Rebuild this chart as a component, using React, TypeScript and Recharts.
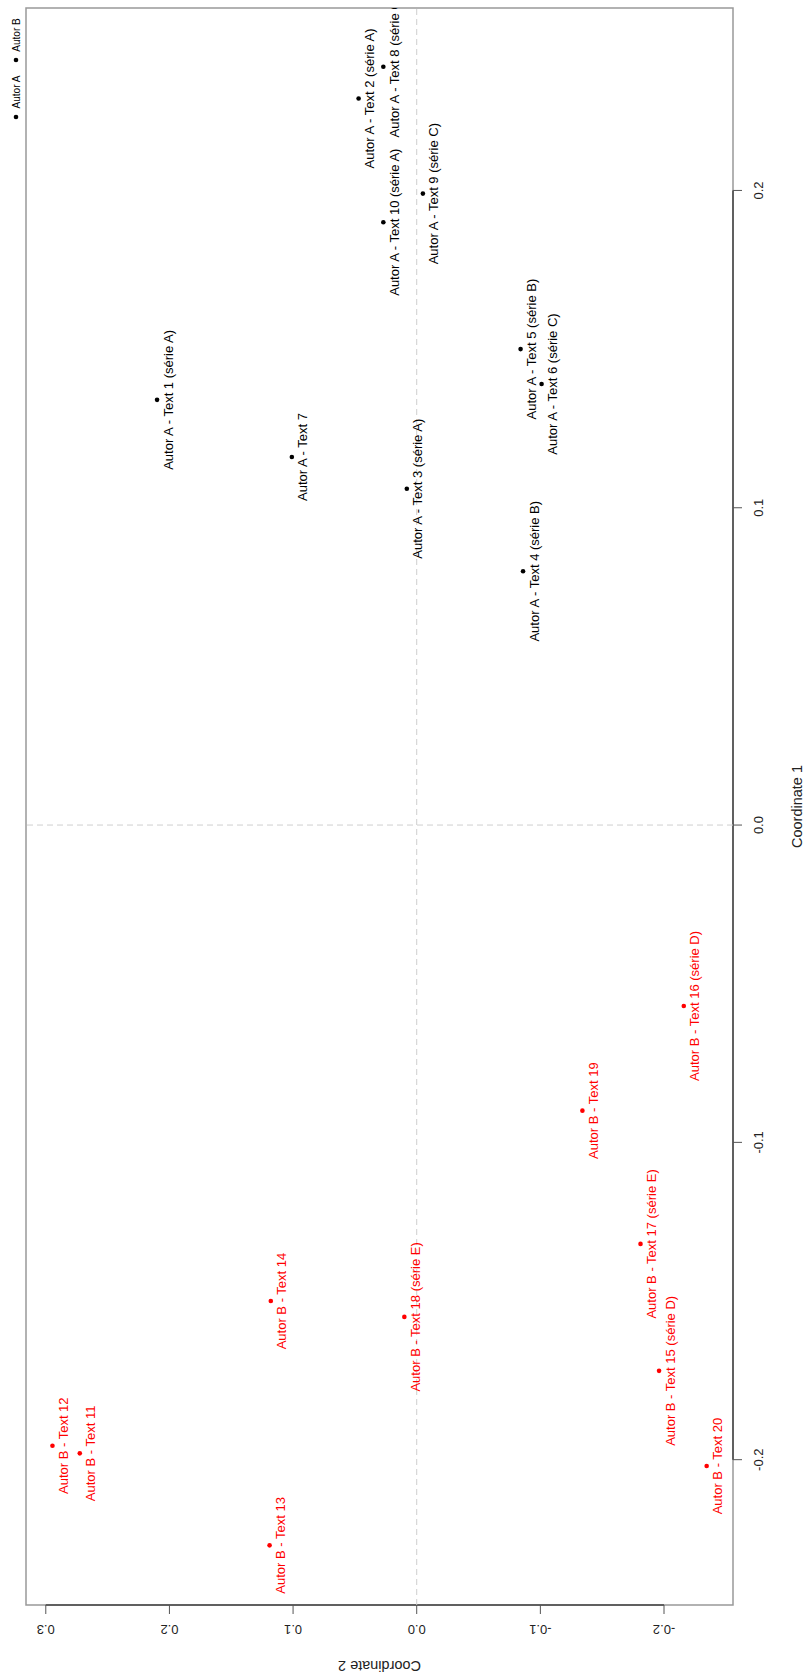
import React from "react";
import {
  ScatterChart,
  Scatter,
  XAxis,
  YAxis,
  ReferenceLine,
  ReferenceArea,
  Legend,
} from "recharts";

// Autor A
const labelsA = [
  "Autor A - Text 1 (série A)",
  "Autor A - Text 2 (série A)",
  "Autor A - Text 3 (série A)",
  "Autor A - Text 4 (série B)",
  "Autor A - Text 5 (série B)",
  "Autor A - Text 6 (série C)",
  "Autor A - Text 7",
  "Autor A - Text 8 (série C)",
  "Autor A - Text 9 (série C)",
  "Autor A - Text 10 (série A)",
];
const coord1A = [0.134, 0.229, 0.106, 0.08, 0.15, 0.139, 0.116, 0.239, 0.199, 0.19];
const coord2A = [0.21, 0.047, 0.008, -0.086, -0.084, -0.101, 0.101, 0.027, -0.005, 0.027];

// Autor B
const labelsB = [
  "Autor B - Text 11",
  "Autor B - Text 12",
  "Autor B - Text 13",
  "Autor B - Text 14",
  "Autor B - Text 15 (série D)",
  "Autor B - Text 16 (série D)",
  "Autor B - Text 17 (série E)",
  "Autor B - Text 18 (série E)",
  "Autor B - Text 19",
  "Autor B - Text 20",
];
const coord1B = [-0.198, -0.1956, -0.227, -0.15, -0.172, -0.057, -0.132, -0.155, -0.09, -0.202];
const coord2B = [0.2725, 0.2946, 0.119, 0.118, -0.196, -0.216, -0.181, 0.01, -0.134, -0.2345];

const ticks1 = [-0.2, -0.1, 0, 0.1, 0.2];
const ticks2 = [0.3, 0.2, 0.1, 0, -0.1, -0.2];

const C1_MIN = -0.2458;
const C1_MAX = 0.2575;
const C2_MIN = -0.2558;
const C2_MAX = 0.316;

const FONT = "'Liberation Sans', Arial, sans-serif";

const dataA = labelsA.map((name, i) => ({ name, c1: coord1A[i], c2: coord2A[i] }));
const dataB = labelsB.map((name, i) => ({ name, c1: coord1B[i], c2: coord2B[i] }));

// point with its label set below it (reads bottom-to-top in the turned plot)
const pointShape = (color: string) => (props: any) => {
  const { cx, cy, payload } = props;
  const tx = cx + 15.5;
  return (
    <g>
      <circle cx={cx} cy={cy} r={2.3} fill={color} />
      <text
        x={tx}
        y={cy}
        transform={`rotate(-90 ${tx} ${cy})`}
        textAnchor="middle"
        fontSize={13}
        fontFamily={FONT}
        fill={color}
      >
        {payload.name}
      </text>
    </g>
  );
};

const BottomTick = (props: any) => {
  const { x, y, payload } = props;
  const ty = y + 11;
  return (
    <text
      x={x}
      y={ty}
      transform={`rotate(180 ${x} ${ty})`}
      textAnchor="middle"
      fontSize={13}
      fontFamily={FONT}
      fill="#222"
    >
      {Number(payload.value).toFixed(1)}
    </text>
  );
};

const RightTick = (props: any) => {
  const { x, y, payload } = props;
  const tx = x + 21;
  return (
    <text
      x={tx}
      y={y}
      transform={`rotate(-90 ${tx} ${y})`}
      textAnchor="middle"
      fontSize={13}
      fontFamily={FONT}
      fill="#222"
    >
      {Number(payload.value).toFixed(1)}
    </text>
  );
};

const BottomTitle = (props: any) => {
  const vb = props.viewBox || { x: 26, y: 1605, width: 707, height: 72 };
  const cx = vb.x + vb.width / 2;
  const ty = vb.y + 56;
  return (
    <text
      x={cx}
      y={ty}
      transform={`rotate(180 ${cx} ${ty})`}
      textAnchor="middle"
      fontSize={14.5}
      fontFamily={FONT}
      fill="#222"
    >
      Coordinate 2
    </text>
  );
};

const RightTitle = (props: any) => {
  const vb = props.viewBox || { x: 733, y: 8, width: 72, height: 1597 };
  const tx = vb.x + 69;
  const cy = vb.y + vb.height / 2;
  return (
    <text
      x={tx}
      y={cy}
      transform={`rotate(-90 ${tx} ${cy})`}
      textAnchor="middle"
      fontSize={14.5}
      fontFamily={FONT}
      fill="#222"
    >
      Coordinate 1
    </text>
  );
};

const legendItems = [
  { name: "Autor A", color: "#000" },
  { name: "Autor B", color: "#000" },
];

const LegendBox = () => (
  <svg width={26} height={130}>
    {legendItems.map((item, i) => {
      const by = 117 - i * 57;
      const ty = by - 25;
      return (
        <g key={item.name}>
          <circle cx={16} cy={by} r={2.3} fill={item.color} />
          <text
            x={19.6}
            y={ty}
            transform={`rotate(-90 19.6 ${ty})`}
            textAnchor="middle"
            fontSize={10}
            fontFamily={FONT}
            fill="#000"
          >
            {item.name}
          </text>
        </g>
      );
    })}
  </svg>
);

export default function App() {
  return (
    <div style={{ position: "absolute", left: 0, top: 0, background: "#fff" }}>
      <ScatterChart
        width={805}
        height={1677}
        margin={{ top: 8, right: 0, bottom: 0, left: 26 }}
      >
        <XAxis
          type="number"
          dataKey="c2"
          domain={[C2_MIN, C2_MAX]}
          reversed
          allowDataOverflow
          ticks={ticks2}
          interval={0}
          height={72}
          axisLine={false}
          tickSize={9}
          tickMargin={0}
          tickLine={{ stroke: "#555" }}
          tick={<BottomTick />}
          label={<BottomTitle />}
        />
        <YAxis
          type="number"
          dataKey="c1"
          orientation="right"
          domain={[C1_MIN, C1_MAX]}
          allowDataOverflow
          ticks={ticks1}
          interval={0}
          width={72}
          axisLine={false}
          tickSize={9}
          tickMargin={0}
          tickLine={{ stroke: "#555" }}
          tick={<RightTick />}
          label={<RightTitle />}
        />
        <ReferenceArea
          x1={C2_MIN}
          x2={C2_MAX}
          y1={C1_MIN}
          y2={C1_MAX}
          fill="none"
          stroke="#999"
          strokeWidth={1.5}
          ifOverflow="visible"
        />
        <ReferenceLine
          segment={[
            { x: ticks2[0], y: C1_MIN },
            { x: ticks2[ticks2.length - 1], y: C1_MIN },
          ]}
          stroke="#444"
          strokeWidth={1.5}
          ifOverflow="visible"
        />
        <ReferenceLine
          segment={[
            { x: C2_MIN, y: ticks1[0] },
            { x: C2_MIN, y: ticks1[ticks1.length - 1] },
          ]}
          stroke="#444"
          strokeWidth={1.5}
          ifOverflow="visible"
        />
        <ReferenceLine x={0} stroke="#cfcfcf" strokeDasharray="6 4" />
        <ReferenceLine y={0} stroke="#cfcfcf" strokeDasharray="6 4" />
        <Legend
          layout="horizontal"
          verticalAlign="middle"
          align="center"
          wrapperStyle={{ left: 0, top: 0, width: 26, height: 130 }}
          content={() => <LegendBox />}
        />
        <Scatter
          name="Autor A"
          data={dataA}
          fill="#000"
          shape={pointShape("#000")}
          isAnimationActive={false}
        />
        <Scatter
          name="Autor B"
          data={dataB}
          fill="#ff0000"
          shape={pointShape("#ff0000")}
          isAnimationActive={false}
        />
      </ScatterChart>
    </div>
  );
}
